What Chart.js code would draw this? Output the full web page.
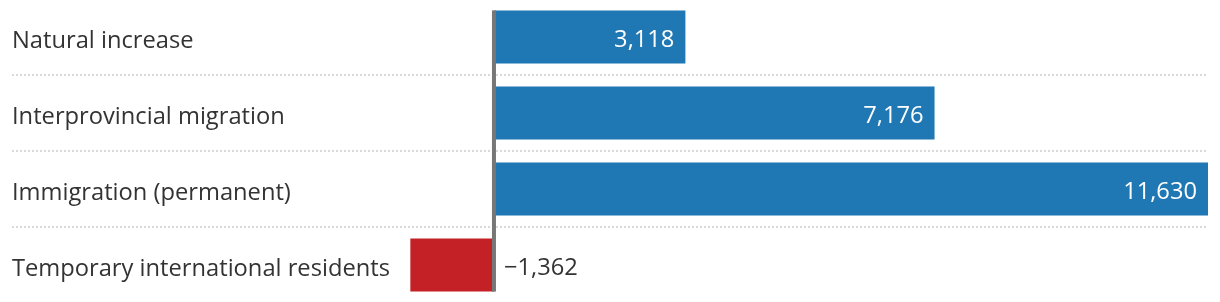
<!DOCTYPE html>
<html>
<head>
<meta charset="utf-8">
<script src="https://cdn.jsdelivr.net/npm/chart.js@4.4.1/dist/chart.umd.min.js"></script>
<style>
  html, body { margin: 0; padding: 0; background: #fff; overflow: hidden; }
  #wrap { position: absolute; left: 0; top: -1px; width: 1220px; height: 304px; }
</style>
</head>
<body>
<div id="wrap"><canvas id="c"></canvas></div>
<script>
const categories = ["Natural increase", "Interprovincial migration", "Immigration (permanent)", "Temporary international residents"];
const values = [3118, 7176, 11630, -1362];
const valueLabels = ["3,118", "7,176", "11,630", "\u22121,362"];
const xMin = -7850;
const xMax = 11630;

const FONT = "'Open Sans', 'Noto Sans', sans-serif";
const FONT_SIZE = 23.7;
const BLUE = "#1f77b4";
const RED = "#c42127";
const TEXT = "#333333";

const labelPlugin = {
  id: "labels",
  afterDatasetsDraw(chart) {
    const ctx = chart.ctx;
    const meta = chart.getDatasetMeta(0);
    const xs = chart.scales.x;
    const ys = chart.scales.y;
    const zero = xs.getPixelForValue(0);
    const first = meta.data[0], last = meta.data[meta.data.length - 1];
    ctx.save();
    // zero line
    ctx.fillStyle = "#777777";
    const top = first.y - first.height / 2;
    const bottom = last.y + last.height / 2;
    ctx.fillRect(zero - 2, top, 4, bottom - top);
    ctx.font = FONT_SIZE + "px " + FONT;
    ctx.textBaseline = "alphabetic";
    // category labels
    ctx.fillStyle = TEXT;
    ctx.textAlign = "left";
    categories.forEach((cat, i) => {
      ctx.fillText(cat, chart.chartArea.left, ys.getPixelForValue(i) + 11);
    });
    // value labels
    meta.data.forEach((bar, i) => {
      const v = values[i];
      if (v >= 0) {
        ctx.fillStyle = "#ffffff";
        ctx.textAlign = "right";
        ctx.fillText(valueLabels[i], bar.x - 11, bar.y + 10);
      } else {
        ctx.fillStyle = TEXT;
        ctx.textAlign = "left";
        ctx.fillText(valueLabels[i], zero + 10, bar.y + 9.5);
      }
    });
    ctx.restore();
  }
};

new Chart(document.getElementById("c"), {
  type: "bar",
  data: {
    labels: categories,
    datasets: [{
      data: values,
      backgroundColor: values.map(v => v >= 0 ? BLUE : RED),
      borderWidth: 0,
      barPercentage: 0.7,
      categoryPercentage: 1.0
    }]
  },
  options: {
    indexAxis: "y",
    responsive: true,
    maintainAspectRatio: false,
    animation: false,
    layout: { padding: { left: 12, right: 12, top: 0, bottom: 0 } },
    plugins: { legend: { display: false }, tooltip: { enabled: false } },
    scales: {
      x: {
        display: false,
        min: xMin,
        max: xMax
      },
      y: {
        display: true,
        grid: {
          display: true,
          offset: true,
          drawTicks: false,
          lineWidth: 2,
          color: (c) => (c.index > 0 ? "#d9d9d9" : "rgba(0,0,0,0)")
        },
        border: { display: false, dash: [2, 2] },
        ticks: { display: false }
      }
    }
  },
  plugins: [labelPlugin]
});
</script>
</body>
</html>
